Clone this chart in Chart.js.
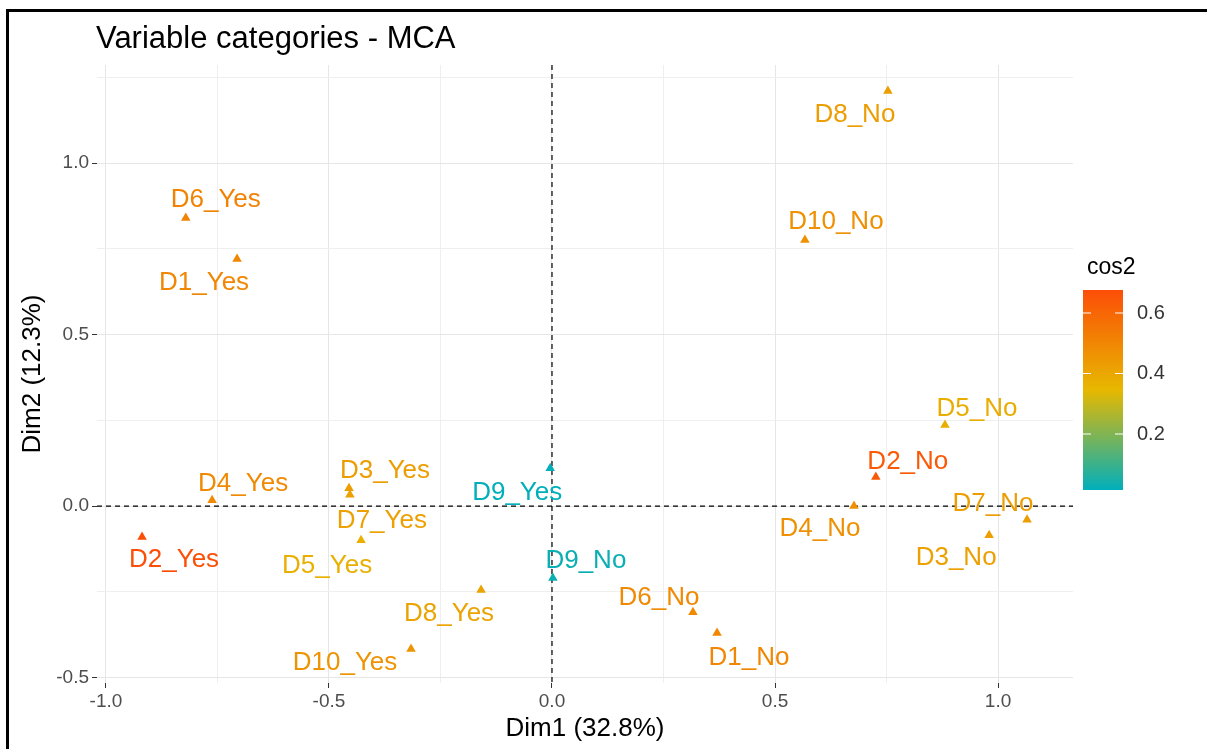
<!DOCTYPE html>
<html>
<head>
<meta charset="utf-8">
<script src="https://cdn.jsdelivr.net/npm/chart.js@4/dist/chart.umd.min.js"></script>
<style>
  html, body { margin: 0; padding: 0; background: #fff; }
  canvas { display: block; }
</style>
</head>
<body>
<canvas id="mca-chart" width="1207" height="749"></canvas>
<script>
// category names and their coordinates on the first two dimensions
const categories = ["D1_Yes", "D1_No", "D2_Yes", "D2_No", "D3_Yes", "D3_No", "D4_Yes", "D4_No",
    "D5_Yes", "D5_No", "D6_Yes", "D6_No", "D7_Yes", "D7_No", "D8_Yes", "D8_No",
    "D9_Yes", "D9_No", "D10_Yes", "D10_No"];
const dim1 = [-0.706, 0.37, -0.919, 0.726, -0.455, 0.98, -0.762, 0.677,
    -0.428, 0.881, -0.821, 0.316, -0.453, 1.065, -0.159, 0.753,
    -0.004, 0.002, -0.316, 0.567];
const dim2 = [0.72, -0.37, -0.09, 0.085, 0.052, -0.085, 0.017, 0.0,
    -0.10, 0.236, 0.84, -0.31, 0.033, -0.04, -0.245, 1.21,
    0.11, -0.21, -0.417, 0.776];
const cos2 = [0.50, 0.50, 0.676, 0.64, 0.43, 0.42, 0.49, 0.47,
    0.37, 0.38, 0.51, 0.49, 0.42, 0.43, 0.41, 0.43,
    0.015, 0.03, 0.46, 0.47];

const xTicks = [-1.0, -0.75, -0.5, -0.25, 0, 0.25, 0.5, 0.75, 1.0];
const yTicks = [-0.5, -0.25, 0, 0.25, 0.5, 0.75, 1.0, 1.25];
const legendTicks = [0.2, 0.4, 0.6];
const cos2Range = [0.015, 0.676];

// where each text label sits relative to its point (px)
const labelOffsets = [[-33, 24], [32, 25], [32, 23], [32, -15], [36, -17], [-33, 23], [31, -16], [-34, 23],
    [-34, 25], [32, -16], [30, -18], [-34, -15], [32, 26], [-34, -16], [-32, 24], [-33, 24],
    [-33, 25], [33, -17], [-66, 14], [31, -18]];

const gradientStops = ["#00AFBB", "#E7B800", "#FC4E07"];
const FONT = "'Liberation Sans', Arial, sans-serif";

function hexToRgb(hex) {
    return [1, 3, 5].map(i => parseInt(hex.slice(i, i + 2), 16));
}

function colorFor(value) {
    let t = (value - cos2Range[0]) / (cos2Range[1] - cos2Range[0]);
    t = Math.max(0, Math.min(1, t));
    const seg = t < 0.5 ? 0 : 1;
    const lt = seg === 0 ? t / 0.5 : (t - 0.5) / 0.5;
    const a = hexToRgb(gradientStops[seg]);
    const b = hexToRgb(gradientStops[seg + 1]);
    const c = a.map((v, i) => Math.round(v + (b[i] - v) * lt));
    return `rgb(${c[0]},${c[1]},${c[2]})`;
}

const pointColors = cos2.map(colorFor);
const points = categories.map((name, i) => ({ x: dim1[i], y: dim2[i] }));

const isMajor = v => Math.abs(v * 2 - Math.round(v * 2)) < 1e-9;

const decorPlugin = {
    id: "decor",
    beforeDraw(chart) {
        const ctx = chart.ctx;
        ctx.save();
        ctx.fillStyle = "#fff";
        ctx.fillRect(0, 0, chart.width, chart.height);
        ctx.restore();
    },
    beforeDatasetsDraw(chart) {
        const { ctx, chartArea, scales } = chart;
        const x0 = scales.x.getPixelForValue(0);
        const y0 = scales.y.getPixelForValue(0);
        ctx.save();
        ctx.strokeStyle = "#000";
        ctx.lineWidth = 1.2;
        ctx.setLineDash([5, 4]);
        ctx.beginPath();
        ctx.moveTo(chartArea.left, y0);
        ctx.lineTo(chartArea.right, y0);
        ctx.moveTo(x0, chartArea.top);
        ctx.lineTo(x0, chartArea.bottom);
        ctx.stroke();
        ctx.restore();
    },
    afterDatasetsDraw(chart) {
        const ctx = chart.ctx;
        const meta = chart.getDatasetMeta(0);
        ctx.save();
        ctx.font = "26px " + FONT;
        ctx.textAlign = "center";
        ctx.textBaseline = "middle";
        meta.data.forEach((pt, i) => {
            ctx.fillStyle = pointColors[i];
            ctx.fillText(categories[i], pt.x + labelOffsets[i][0], pt.y + labelOffsets[i][1]);
        });
        ctx.restore();
    },
    afterDraw(chart) {
        const ctx = chart.ctx;
        ctx.save();
        // title
        ctx.fillStyle = "#000";
        ctx.font = "31px " + FONT;
        ctx.textBaseline = "middle";
        ctx.textAlign = "left";
        ctx.fillText("Variable categories - MCA", 96, 39);

        // colour bar legend
        const barL = 1083, barW = 40, barTop = 290, barBottom = 490;
        const pxPerUnit = 302.5;
        const yFor = v => 434 - (v - 0.2) * pxPerUnit;
        const grad = ctx.createLinearGradient(0, yFor(cos2Range[0]), 0, yFor(cos2Range[1]));
        grad.addColorStop(0, gradientStops[0]);
        grad.addColorStop(0.5, gradientStops[1]);
        grad.addColorStop(1, gradientStops[2]);
        ctx.fillStyle = grad;
        ctx.fillRect(barL, barTop, barW, barBottom - barTop);
        ctx.fillStyle = "#000";
        ctx.font = "23px " + FONT;
        ctx.fillText("cos2", barL + 4, 268);
        ctx.font = "20px " + FONT;
        ctx.fillStyle = "#333";
        legendTicks.forEach(v => {
            const y = yFor(v);
            ctx.strokeStyle = "#fff";
            ctx.lineWidth = 1;
            ctx.beginPath();
            ctx.moveTo(barL, y);
            ctx.lineTo(barL + 8, y);
            ctx.moveTo(barL + barW - 8, y);
            ctx.lineTo(barL + barW, y);
            ctx.stroke();
            ctx.fillText(v.toFixed(1), barL + barW + 14, y);
        });

        // frame
        ctx.fillStyle = "#000";
        ctx.fillRect(6, 9, chart.width - 6, 3);
        ctx.fillRect(6, 9, 3, chart.height - 9);
        ctx.restore();
    }
};

const gridColor = ctx => isMajor(ctx.tick.value) ? "#e6e6e6" : "#efefef";
const tickColor = ctx => isMajor(ctx.tick.value) ? "#333" : "rgba(0,0,0,0)";

new Chart(document.getElementById("mca-chart"), {
    type: "scatter",
    data: {
        datasets: [{
            data: points,
            pointStyle: "triangle",
            pointRadius: 5.5,
            pointBackgroundColor: pointColors,
            pointBorderColor: pointColors,
            pointBorderWidth: 0
        }]
    },
    options: {
        responsive: false,
        animation: false,
        devicePixelRatio: 1,
        layout: { padding: { top: 65, right: 134, bottom: 0, left: 0 } },
        plugins: {
            legend: { display: false },
            tooltip: { enabled: false }
        },
        scales: {
            x: {
                type: "linear",
                min: -1.02,
                max: 1.168,
                afterBuildTicks: scale => { scale.ticks = xTicks.map(v => ({ value: v })); },
                afterFit: scale => { scale.height = 66; },
                border: { display: false },
                grid: { color: gridColor, lineWidth: 1, drawTicks: true, tickLength: 5, tickColor: tickColor },
                ticks: {
                    padding: 2,
                    color: "#4d4d4d",
                    font: { family: FONT, size: 19 },
                    callback: v => isMajor(v) ? v.toFixed(1) : ""
                },
                title: {
                    display: true,
                    text: "Dim1 (32.8%)",
                    color: "#000",
                    font: { family: FONT, size: 26 },
                    padding: { top: 0, bottom: 5 }
                }
            },
            y: {
                type: "linear",
                min: -0.516,
                max: 1.286,
                afterBuildTicks: scale => { scale.ticks = yTicks.map(v => ({ value: v })); },
                afterFit: scale => { scale.width = 97; },
                border: { display: false },
                grid: { color: gridColor, lineWidth: 1, drawTicks: true, tickLength: 5, tickColor: tickColor },
                ticks: {
                    padding: 3,
                    color: "#4d4d4d",
                    font: { family: FONT, size: 19 },
                    callback: v => isMajor(v) ? v.toFixed(1) : ""
                },
                title: {
                    display: true,
                    text: "Dim2 (12.3%)",
                    color: "#000",
                    font: { family: FONT, size: 26 },
                    padding: { top: 17, bottom: 0 }
                }
            }
        }
    },
    plugins: [decorPlugin]
});
</script>
</body>
</html>
